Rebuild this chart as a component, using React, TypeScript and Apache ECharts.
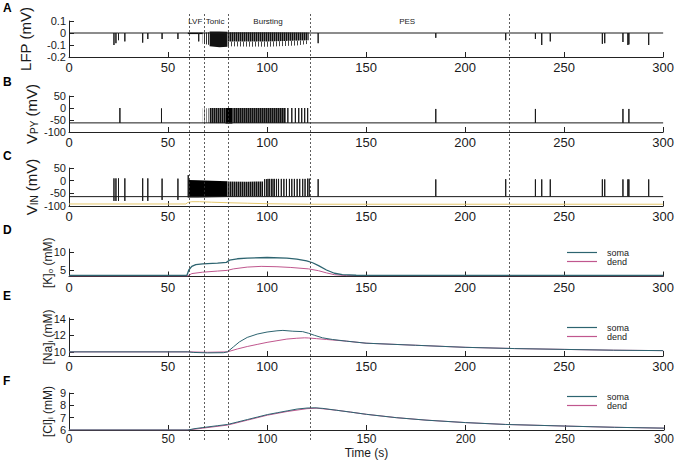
import React, { useEffect, useRef } from 'react';
import * as echarts from 'echarts';

const FONT = '"Liberation Sans", Arial, Helvetica, sans-serif';

// ---- shared ----
const timeMin = 0;
const timeMax = 300;
const timeStep = 50;
const phaseBounds = [60, 67.5, 80, 121, 220.5];
const phaseNames = ['LVF', 'Tonic', 'Bursting', 'PES'];
const panelLetters = ['A', 'B', 'C', 'D', 'E', 'F'];
const legendNames = ['soma', 'dend'];

// ---- A: LFP (mV) ----
const lfpBase = 0;
const lfpSpikes: number[][] = [
  [22.7, -0.1], [23.7, -0.085], [25, -0.06], [28.2, -0.07], [37.2, -0.08], [39.8, -0.05],
  [47, -0.05], [55, -0.05], [65.5, -0.07], [125.8, -0.085], [185.2, -0.04], [220.5, -0.06],
  [235.5, -0.05], [238.7, -0.1], [243, -0.07], [269.3, -0.09], [270.5, -0.085], [279.7, -0.075],
  [282.2, -0.1], [282.7, -0.095], [292.7, -0.1],
];
const lfpLvfBand = [[60, -0.009, 0.003], [67.5, -0.009, 0.003]];
const lfpTonicLight = [[67.5, -0.09, 0.003], [71, -0.1, 0.006]];
const lfpTonicDark = [[71, -0.11, 0.012], [76, -0.118, 0.012], [80, -0.115, 0.01]];
const lfpBurstCore = [[80, -0.07, 0.006], [100, -0.07, 0.006], [121, -0.06, 0.004]];
const lfpBurstTail = [[80, -0.11, -0.07], [100, -0.115, -0.07], [115, -0.105, -0.065], [121, -0.09, -0.06]];

// ---- B: V_PY (mV) ----
const pyBase = -62;
const pySpikes: number[][] = [
  [25.7, 0], [46.7, -2], [110.5, 0], [112.5, 0], [114.3, 0], [116, 0], [117.5, 0], [119, 0],
  [120.5, 0], [185.2, -4], [235.5, -4], [279.7, -4], [282.7, -4],
];
const pyLightBand = [[67.5, -62, -1], [71, -62, -1]];
const pyTonicBand = [[71, -63, 0], [79, -63, 0]];
const pyDarkBand = [[79, -65, 0], [82.5, -65, 0]];
const pyBurstBand = [[82.5, -63, 0], [95, -63, 0], [109.5, -62, 0]];

// ---- C: V_IN (mV) ----
const inBase = -63;
const inSpikes: number[][] = [
  [22.7, 9, -80], [23.7, 9, -80], [25, 9, -80], [28.2, 9, -80], [37.2, 9, -80], [39.8, 9, -80],
  [47, 8, -76], [55, 8, -76], [60.2, 22, -66],
  [98.8, 6], [99.8, 6], [100.5, 7], [101.3, 7], [102.2, 7], [103, 7], [103.8, 7], [104.8, 7],
  [105.8, 7], [107.2, 7], [108.5, 7], [109.8, 7], [111.3, 7], [112.5, 7], [113.8, 7], [115.2, 7],
  [116.5, 7], [118, 7], [119.2, 7], [120.5, 8], [121.3, 8],
  [125.8, 6], [185.2, 5], [220.5, 6], [235.5, 5], [238.7, 5], [243, 5], [269.3, 5], [270.5, 5],
  [279.7, 5], [282.2, 5], [282.7, 5], [292.7, 5],
];
const inTonicBand = [[60.3, -66, 3], [65, -66, 2], [72, -65, 0], [80, -64, -2]];
const inMidBand = [[80, -63, -3], [90, -62, -4], [98, -62, -3]];
const inYellow = [
  [0, -92], [59, -92], [60, -86], [62, -83], [66, -83], [72, -85], [80, -87], [90, -89],
  [100, -91], [110, -92], [121, -93], [300, -93],
];

// ---- D: [K]o (mM) ----
const kSoma = [
  [0, 3.5], [59.5, 3.5], [60.5, 5], [62, 6], [64, 6.5], [67.5, 6.7], [75, 6.9], [79.5, 7.1],
  [81, 7.7], [85, 8.1], [90, 8.3], [100, 8.45], [110, 8.3], [115, 8.0], [120, 7.5], [123, 7.0],
  [126, 6.2], [130, 5.0], [134, 4.1], [138, 3.7], [145, 3.55], [300, 3.5],
];
const kDend = [
  [0, 3.4], [60, 3.4], [62, 4.0], [67.5, 4.4], [75, 4.7], [80, 4.9], [83, 5.3], [90, 5.8],
  [97, 6.0], [105, 5.9], [112, 5.7], [121, 5.3], [126, 4.8], [130, 4.2], [134, 3.7], [140, 3.45],
  [300, 3.4],
];

// ---- E: [Na]i (mM) ----
const naSoma = [
  [0, 10], [60, 10], [63, 9.93], [70, 9.88], [78, 9.9], [80, 10.0], [83, 10.6], [86, 11.2],
  [90, 11.75], [95, 12.15], [100, 12.4], [105, 12.55], [108, 12.6], [113, 12.5], [118, 12.45],
  [121, 12.25], [124, 12.0], [128, 11.7], [133, 11.5], [140, 11.3], [150, 11.05], [175, 10.8],
  [200, 10.55], [225, 10.4], [250, 10.3], [275, 10.2], [300, 10.15],
];
const naDend = [
  [0, 10], [60, 10], [70, 9.95], [80, 10.0], [85, 10.35], [90, 10.65], [95, 10.9], [100, 11.15],
  [105, 11.35], [110, 11.55], [115, 11.65], [119, 11.7], [121, 11.68], [125, 11.6], [130, 11.5],
  [140, 11.3], [150, 11.05], [175, 10.8], [200, 10.55], [225, 10.4], [250, 10.3], [275, 10.2],
  [300, 10.15],
];

// ---- F: [Cl]i (mM) ----
const clSoma = [
  [0, 6.0], [60, 6.0], [63, 6.1], [67.5, 6.2], [75, 6.35], [80, 6.45], [85, 6.65], [90, 6.85],
  [95, 7.05], [100, 7.25], [105, 7.4], [110, 7.55], [115, 7.7], [120, 7.78], [124, 7.8],
  [128, 7.75], [135, 7.6], [142, 7.45], [150, 7.27], [165, 7.0], [180, 6.8], [200, 6.6],
  [220, 6.45], [250, 6.32], [275, 6.22], [300, 6.15],
];
const clDend = [
  [0, 6.0], [60, 6.0], [67.5, 6.15], [80, 6.4], [90, 6.8], [100, 7.2], [110, 7.5], [120, 7.73],
  [125, 7.77], [135, 7.6], [142, 7.45], [150, 7.27], [165, 7.0], [180, 6.8], [200, 6.6],
  [220, 6.45], [250, 6.32], [275, 6.22], [300, 6.15],
];

const SOMA = '#2d6470';
const DEND = '#c0578e';
const INK = '#1a1a1a';

function stripes(period: number, color: string, bg?: string): any {
  try {
    const c = document.createElement('canvas');
    c.width = period;
    c.height = 4;
    const ctx = c.getContext('2d');
    if (!ctx) return color;
    if (bg) {
      ctx.fillStyle = bg;
      ctx.fillRect(0, 0, period, 4);
    }
    ctx.fillStyle = color;
    ctx.fillRect(0, 0, 1, 4);
    return { image: c.toDataURL(), repeat: 'repeat' };
  } catch (e) {
    return color;
  }
}

function trace(spikes: number[][], base: number) {
  const pts: number[][] = [[timeMin, base]];
  for (const s of spikes) {
    pts.push([s[0], base], [s[0], s[1]]);
    if (s.length > 2) pts.push([s[0], s[2]]);
    pts.push([s[0], base]);
  }
  pts.push([timeMax, base]);
  return pts;
}

function band(b: number[][], fill: any, idx: number) {
  return {
    type: 'custom',
    xAxisIndex: idx,
    yAxisIndex: idx,
    silent: true,
    z: 3,
    data: [[b[0][0], b[0][1]]],
    renderItem: (_p: any, api: any) => {
      const top = b.map((r) => api.coord([r[0], r[2]]));
      const bot = b.slice().reverse().map((r) => api.coord([r[0], r[1]]));
      return { type: 'polygon', shape: { points: top.concat(bot) }, style: { fill } };
    },
  };
}

function lineS(data: number[][], idx: number, color: string, width = 1, name?: string) {
  return {
    type: 'line',
    name,
    xAxisIndex: idx,
    yAxisIndex: idx,
    data,
    showSymbol: false,
    symbol: 'none',
    silent: true,
    z: 4,
    lineStyle: { color, width },
    itemStyle: { color },
  };
}

const grids = [
  { top: 21, height: 36 },
  { top: 96, height: 36 },
  { top: 168, height: 38 },
  { top: 249, height: 27.5 },
  { top: 318, height: 38 },
  { top: 393, height: 37 },
  { top: 13, height: 427 },
];
const letterTops = [2, 76, 150, 224, 290, 375];

const yDefs: any[] = [
  { min: -0.2, max: 0.1, interval: 0.1, name: 'LFP (mV)', big: true, gap: 36 },
  { min: -100, max: 50, interval: 50, name: '{a|V}{s|PY}{a| (mV)}', big: true, gap: 30 },
  { min: -100, max: 50, interval: 50, name: '{a|V}{s|IN}{a| (mV)}', big: true, gap: 30 },
  { min: 3.2, max: 10.8, custom: [5, 10], name: '{b|[K]}{t|o}{b| (mM)}', big: false, gap: 15 },
  { min: 9.5, max: 14.1, custom: [10, 12, 14], name: '{b|[Na]}{t|i}{b| (mM)}', big: false, gap: 15 },
  { min: 6, max: 9, interval: 1, name: '{b|[Cl]}{t|i}{b| (mM)}', big: false, gap: 15 },
];

const rich = {
  a: { fontSize: 15, fontFamily: FONT, color: INK },
  s: { fontSize: 10, fontFamily: FONT, color: INK, verticalAlign: 'bottom' },
  b: { fontSize: 12, fontFamily: FONT, color: INK },
  t: { fontSize: 8, fontFamily: FONT, color: INK, verticalAlign: 'bottom' },
};

export default function App() {
  const ref = useRef<HTMLDivElement>(null);
  useEffect(() => {
    if (!ref.current) return;
    const chart = echarts.init(ref.current, undefined, { renderer: 'svg' });

    const xAxis: any[] = grids.map((_, i) => {
      if (i === 6) return { type: 'value', gridIndex: i, min: timeMin, max: timeMax, show: false };
      return {
        type: 'value',
        gridIndex: i,
        min: timeMin,
        max: timeMax,
        interval: timeStep,
        splitLine: { show: false },
        axisLine: { show: true, onZero: false, lineStyle: { color: '#222', width: 1 } },
        axisTick: { show: true, inside: true, length: 5, lineStyle: { color: '#222' } },
        axisLabel: {
          fontSize: i === 5 ? 12 : 13,
          lineHeight: i === 5 ? 12 : 13,
          color: INK,
          margin: i === 5 ? 3 : 4,
          fontFamily: FONT,
          showMinLabel: true,
          showMaxLabel: true,
        },
        name: i === 5 ? 'Time (s)' : '',
        nameLocation: 'middle',
        nameGap: 17,
        nameMoveOverlap: false,
        nameTextStyle: { fontSize: 12, lineHeight: 12, color: INK, fontFamily: FONT },
      };
    });

    const yAxis: any[] = grids.map((_, i) => {
      if (i === 6) return { type: 'value', gridIndex: i, min: 0, max: 1, show: false };
      const d = yDefs[i];
      const ax: any = {
        type: 'value',
        gridIndex: i,
        min: d.min,
        max: d.max,
        splitLine: { show: false },
        axisLine: { show: true, onZero: false, lineStyle: { color: '#222', width: 1 } },
        axisTick: { show: true, inside: true, length: 5, lineStyle: { color: '#222' } },
        axisLabel: {
          fontSize: 11,
          lineHeight: 10,
          color: INK,
          margin: 3,
          fontFamily: FONT,
          showMinLabel: true,
          showMaxLabel: true,
          hideOverlap: false,
        },
        name: d.name,
        nameLocation: 'middle',
        nameGap: d.gap,
        nameMoveOverlap: false,
        nameTextStyle: { fontSize: d.big ? 15 : 12, color: INK, fontFamily: FONT, rich },
      };
      if (d.interval) ax.interval = d.interval;
      if (d.custom) {
        ax.axisLabel.customValues = d.custom;
        ax.axisTick.customValues = d.custom;
      }
      return ax;
    });

    const phaseAreas = phaseNames.map((n, k) => [
      { xAxis: phaseBounds[k], name: n },
      { xAxis: phaseBounds[k + 1] },
    ]);

    const series: any[] = [
      // A
      {
        ...lineS(trace(lfpSpikes, lfpBase), 0, INK, 1),
        markArea: {
          silent: true,
          itemStyle: { color: 'rgba(0,0,0,0)' },
          label: { show: true, position: 'insideTop', distance: 0, offset: [0, -4], fontSize: 8, color: INK, fontFamily: FONT },
          data: phaseAreas,
        },
      },
      band(lfpLvfBand, '#000', 0),
      band(lfpTonicLight, stripes(2, '#333'), 0),
      band(lfpTonicDark, '#111', 0),
      band(lfpBurstCore, stripes(2, '#111', '#777'), 0),
      band(lfpBurstTail, stripes(3, '#444'), 0),
      // B
      lineS(trace(pySpikes, pyBase), 1, INK, 1),
      band(pyLightBand, stripes(2, '#888'), 1),
      band(pyTonicBand, stripes(2, '#111', '#666'), 1),
      band(pyDarkBand, '#000', 1),
      band(pyBurstBand, stripes(2, '#111', '#555'), 1),
      // C
      lineS(inYellow, 2, '#e6c86e', 1),
      lineS(trace(inSpikes, inBase), 2, INK, 1),
      band(inTonicBand, '#000', 2),
      band(inMidBand, stripes(2, '#111', '#777'), 2),
      // D
      lineS(kDend, 3, DEND, 1, 'dend'),
      lineS(kSoma, 3, SOMA, 1.3, 'soma'),
      // E
      lineS(naDend, 4, DEND, 1, 'dend'),
      lineS(naSoma, 4, SOMA, 1, 'soma'),
      // F
      lineS(clDend, 5, DEND, 1, 'dend'),
      lineS(clSoma, 5, SOMA, 1, 'soma'),
      // overlay dotted phase boundaries
      {
        type: 'line',
        xAxisIndex: 6,
        yAxisIndex: 6,
        data: [[0, 0]],
        showSymbol: false,
        symbol: 'none',
        lineStyle: { opacity: 0 },
        silent: true,
        z: 10,
        markLine: {
          silent: true,
          symbol: 'none',
          label: { show: false },
          lineStyle: { type: [2, 2], color: '#333', width: 0.8 },
          data: phaseBounds.map((b) => ({ xAxis: b })),
        },
      },
    ];

    const legendTops = [248, 323, 392];
    const legend = legendTops.map((t) => ({
      orient: 'vertical',
      left: 567,
      top: t,
      padding: 0,
      icon: 'rect',
      itemWidth: 30,
      itemHeight: 1.2,
      itemGap: 0,
      selectedMode: false,
      data: legendNames,
      textStyle: { fontSize: 9, lineHeight: 8, color: INK, fontFamily: FONT, padding: [0, 0, 0, 5] },
    }));

    chart.setOption({
      animation: false,
      textStyle: { fontFamily: FONT },
      grid: grids.map((g) => ({ left: 69, width: 599, top: g.top, height: g.height, containLabel: false })),
      xAxis,
      yAxis,
      legend,
      series,
      graphic: panelLetters.map((l, i) => ({
        type: 'text',
        left: 3,
        top: letterTops[i],
        style: { text: l, font: `bold 12px ${FONT}`, fill: '#000' },
      })),
    });
    return () => chart.dispose();
  }, []);
  return <div ref={ref} style={{ position: 'absolute', left: 0, top: 0, width: 677, height: 461 }} />;
}
